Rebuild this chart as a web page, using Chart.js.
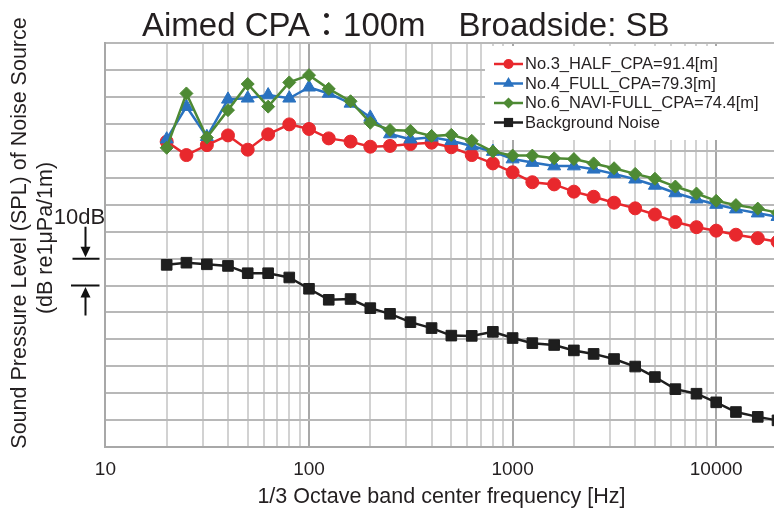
<!DOCTYPE html>
<html>
<head>
<meta charset="utf-8">
<title>SPL of Noise Source</title>
<script src="https://cdn.jsdelivr.net/npm/chart.js@4.4.1/dist/chart.umd.min.js"></script>
<style>
  html, body { margin: 0; padding: 0; background: #fff; overflow: hidden; }
</style>
</head>
<body>
<canvas id="splChart" width="780" height="513"></canvas>
<script>
// 1/3 octave band centre frequencies [Hz]
const bands = [20, 25, 31.5, 40, 50, 63, 80, 100, 125, 160, 200, 250, 315, 400, 500, 630,
    800, 1000, 1250, 1600, 2000, 2500, 3150, 4000, 5000, 6300, 8000, 10000, 12500, 16000, 20000];

// SPL per band [dB re 1uPa/1m]
const halfCpa = [153.5, 148.5, 152.2, 155.8, 150.5, 156.2, 159.9, 158.2, 154.7, 153.5,
    151.6, 151.9, 152.6, 153.1, 151.4, 148.5, 145.4, 142.1, 138.4, 137.6,
    134.9, 133.0, 130.8, 128.7, 126.4, 123.6, 121.7, 120.4, 118.9, 117.6, 116.3];
const fullCpa = [154.4, 166.5, 155.3, 169.2, 169.6, 170.8, 169.6, 173.7, 171.4, 167.7,
    162.5, 156.3, 154.4, 155.1, 153.8, 151.9, 149.8, 147.0, 145.7, 144.4,
    144.4, 143.2, 141.5, 139.5, 137.2, 134.4, 132.1, 130.1, 128.4, 126.9, 125.6];
const naviFullCpa = [151.2, 171.4, 155.0, 165.2, 174.9, 166.5, 175.5, 178.2, 173.1, 168.5,
    160.5, 157.8, 157.5, 155.6, 156.0, 153.8, 149.8, 148.3, 148.3, 147.3,
    147.0, 145.4, 143.6, 141.5, 139.7, 136.8, 134.2, 131.5, 129.9, 128.6, 127.1];
const backgroundNoise = [107.7, 108.5, 107.9, 107.3, 104.6, 104.6, 103.0, 98.8, 94.7, 95.0,
    91.6, 89.5, 86.4, 84.2, 81.4, 81.3, 82.8, 80.5, 78.6, 77.9,
    75.9, 74.6, 72.7, 69.9, 66.0, 61.5, 59.8, 56.6, 53.0, 51.2, 49.9];

// Labelled ticks on the frequency axis
const decadeTicks = [10, 100, 1000, 10000];

const FONT = "'Liberation Sans', Arial, 'Noto Sans CJK JP', sans-serif";
const TEXT = '#231f20';

Chart.defaults.font.family = FONT;
Chart.defaults.color = TEXT;

const series = [
    { label: 'No.3_HALF_CPA=91.4[m]', values: halfCpa, color: '#e8282d', style: 'circle', radius: 6.5, legendRadius: 5 },
    { label: 'No.4_FULL_CPA=79.3[m]', values: fullCpa, color: '#2a72c0', style: 'triangle', radius: 7.5, legendRadius: 6.5 },
    { label: 'No.6_NAVI-FULL_CPA=74.4[m]', values: naviFullCpa, color: '#4e8a34', style: 'rectRot', radius: 6.5, legendRadius: 5.5 },
    { label: 'Background Noise', values: backgroundNoise, color: '#1e1e1e', style: 'rect', radius: 7.5, legendRadius: 6.5 }
];

// Marker shapes for the hand-drawn legend (same geometry as Chart.js point styles)
function drawMarker(ctx, style, x, y, r) {
    ctx.beginPath();
    if (style === 'circle') {
        ctx.arc(x, y, r, 0, Math.PI * 2);
    } else if (style === 'triangle') {
        for (let k = 0; k < 3; k++) {
            const a = k * 2 * Math.PI / 3;
            const px = x + Math.sin(a) * r, py = y - Math.cos(a) * r;
            k ? ctx.lineTo(px, py) : ctx.moveTo(px, py);
        }
        ctx.closePath();
    } else if (style === 'rectRot') {
        ctx.moveTo(x, y - r); ctx.lineTo(x + r, y); ctx.lineTo(x, y + r); ctx.lineTo(x - r, y);
        ctx.closePath();
    } else {
        const s = r * Math.SQRT1_2;
        ctx.rect(x - s, y - s, 2 * s, 2 * s);
    }
    ctx.fill();
}

// Y axis caption, 10 dB scale bar and the legend box
const overlayPlugin = {
    id: 'splOverlay',
    afterDraw(chart) {
        const ctx = chart.ctx;
        const yScale = chart.scales.y;

        // rotated y caption
        ctx.save();
        ctx.fillStyle = TEXT;
        ctx.font = '21.5px ' + FONT;
        ctx.textAlign = 'center';
        ctx.textBaseline = 'middle';
        [['Sound Pressure Level (SPL) of Noise Source', 20, 233], ['(dB re1μPa/1m)', 46, 238]].forEach(([txt, x, y]) => {
            ctx.save();
            ctx.translate(x, y);
            ctx.rotate(-Math.PI / 2);
            ctx.fillText(txt, 0, 0);
            ctx.restore();
        });
        ctx.restore();

        // 10 dB scale bar between two adjacent grid lines
        const yHi = yScale.getPixelForValue(110);
        const yLo = yScale.getPixelForValue(100);
        ctx.save();
        ctx.strokeStyle = '#111';
        ctx.fillStyle = '#111';
        ctx.lineWidth = 2;
        ctx.beginPath();
        ctx.moveTo(72.5, yHi); ctx.lineTo(99.5, yHi);
        ctx.moveTo(71, yLo); ctx.lineTo(99.5, yLo);
        ctx.moveTo(85.5, yHi - 32); ctx.lineTo(85.5, yHi - 9);
        ctx.moveTo(85.5, yLo + 9); ctx.lineTo(85.5, yLo + 30);
        ctx.stroke();
        ctx.beginPath();
        ctx.moveTo(80.5, yHi - 12); ctx.lineTo(90.5, yHi - 12); ctx.lineTo(85.5, yHi - 1.5);
        ctx.closePath();
        ctx.moveTo(80.5, yLo + 12); ctx.lineTo(90.5, yLo + 12); ctx.lineTo(85.5, yLo + 1.5);
        ctx.closePath();
        ctx.fill();
        ctx.font = '22px ' + FONT;
        ctx.textAlign = 'center';
        ctx.textBaseline = 'middle';
        ctx.fillStyle = TEXT;
        ctx.fillText('10dB', 79.5, 218);
        ctx.restore();

        // legend
        ctx.save();
        ctx.fillStyle = '#fff';
        ctx.fillRect(485, 46, 300, 94);
        ctx.font = '16.5px ' + FONT;
        ctx.textBaseline = 'middle';
        series.forEach((s, i) => {
            const y = 64 + i * 19.5;
            ctx.strokeStyle = s.color;
            ctx.fillStyle = s.color;
            ctx.lineWidth = 2.5;
            ctx.beginPath();
            ctx.moveTo(494, y); ctx.lineTo(523, y);
            ctx.stroke();
            drawMarker(ctx, s.style, 508.5, y, s.legendRadius);
            ctx.fillStyle = TEXT;
            ctx.fillText(s.label, 525, y + 0.5);
        });
        ctx.restore();
    }
};

new Chart(document.getElementById('splChart'), {
    type: 'line',
    data: {
        datasets: series.map((s, i) => ({
            label: s.label,
            data: bands.map((f, k) => ({ x: f, y: s.values[k] })),
            borderColor: s.color,
            backgroundColor: s.color,
            borderWidth: 2.5,
            pointStyle: s.style,
            pointRadius: s.radius,
            pointBorderWidth: 1,
            pointBorderColor: s.color,
            pointBackgroundColor: s.color,
            tension: 0,
            order: series.length - i
        }))
    },
    options: {
        responsive: false,
        animation: false,
        layout: { autoPadding: false, padding: { left: 34, right: 2.5, top: 0, bottom: 0 } },
        plugins: {
            legend: { display: false },
            tooltip: { enabled: false },
            title: {
                display: true,
                text: 'Aimed CPA：100m　Broadside: SB',
                color: TEXT,
                font: { size: 33, weight: 'normal', lineHeight: 1 },
                padding: { top: 10, bottom: 0.4 }
            }
        },
        scales: {
            x: {
                type: 'logarithmic',
                min: 10,
                max: 20000,
                afterBuildTicks: (scale) => {
                    const ticks = [];
                    for (let d = 10; d <= 10000; d *= 10) {
                        for (let m = 1; m <= 9; m++) {
                            if (m * d <= 20000) ticks.push({ value: m * d });
                        }
                    }
                    ticks.push({ value: 20000 });
                    scale.ticks = ticks;
                },
                // fixed axis height; no side padding so the plot runs out to 20 kHz
                afterFit: (scale) => {
                    scale.height = 66;
                    scale.paddingLeft = 0;
                    scale.paddingRight = 0;
                },
                ticks: {
                    autoSkip: false,
                    maxRotation: 0,
                    padding: 11,
                    color: TEXT,
                    font: { size: 19 },
                    callback: (v) => decadeTicks.includes(v) ? String(v) : ''
                },
                grid: {
                    drawTicks: false,
                    lineWidth: 2,
                    color: (c) => decadeTicks.includes(c.tick && c.tick.value) ? '#a8a8a8' : '#d2d2d2'
                },
                border: { color: '#a8a8a8', width: 2 },
                title: {
                    display: true,
                    text: '1/3 Octave band center frequency [Hz]',
                    color: TEXT,
                    font: { size: 21.5 },
                    padding: { top: 0, bottom: 3 }
                }
            },
            y: {
                min: 40,
                max: 190,
                afterFit: (scale) => { scale.width = 71.4; },
                ticks: { display: false, stepSize: 10 },
                grid: { drawTicks: false, lineWidth: 2, color: '#b8b8b8' },
                border: { color: '#a8a8a8', width: 2 }
            }
        }
    },
    plugins: [overlayPlugin]
});
</script>
</body>
</html>
